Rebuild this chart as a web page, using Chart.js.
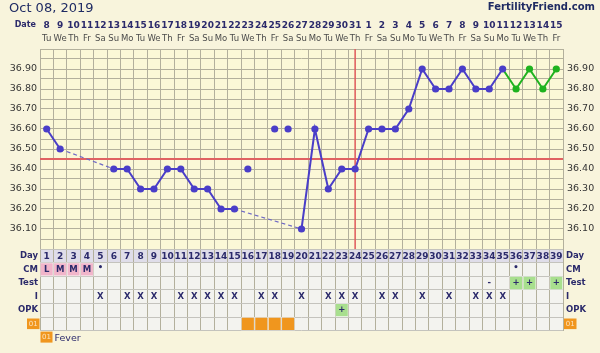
<!DOCTYPE html>
<html>
<head>
<meta charset="utf-8">
<script src="https://cdn.jsdelivr.net/npm/chart.js@4.4.1/dist/chart.umd.min.js"></script>
<style>
html,body{margin:0;padding:0;background:#f8f4dc;overflow:hidden}
#wrap{width:600px;height:353px;position:relative}
canvas{display:block}
</style>
</head>
<body>
<div id="wrap"><canvas id="chart" width="600" height="353"></canvas></div>
<script>
// ---------------- data ----------------
const chartDate = 'Oct 08, 2019';
const siteName = 'FertilityFriend.com';
const cycleDays = [1,2,3,4,5,6,7,8,9,10,11,12,13,14,15,16,17,18,19,20,21,22,23,24,25,26,27,28,29,30,31,32,33,34,35,36,37,38,39];
const dateLabels = ['8','9','10','11','12','13','14','15','16','17','18','19','20','21','22','23','24','25','26','27','28','29','30','31','1','2','3','4','5','6','7','8','9','10','11','12','13','14','15'];
const weekdayLabels = ['Tu','We','Th','Fr','Sa','Su','Mo','Tu','We','Th','Fr','Sa','Su','Mo','Tu','We','Th','Fr','Sa','Su','Mo','Tu','We','Th','Fr','Sa','Su','Mo','Tu','We','Th','Fr','Sa','Su','Mo','Tu','We','Th','Fr'];
const temperatures = [36.60,36.50,null,null,null,36.40,36.40,36.30,36.30,36.40,36.40,36.30,36.30,36.20,36.20,null,null,null,null,36.10,36.60,36.30,36.40,36.40,36.60,36.60,36.60,36.70,36.90,36.80,36.80,36.90,36.80,36.80,36.90,36.80,36.90,36.80,36.90];
const discardedDays = [16,18,19];
const discardedTemps = [36.40,36.60,36.60];
const greenFromDay = 35;
const coverlineTemp = 36.45;
const ovulationDay = 24;
const tempTickLabels = ['36.10','36.20','36.30','36.40','36.50','36.60','36.70','36.80','36.90'];
const rowLabels = ['Day','CM','Test','I','OPK','01'];
const cmDays = [1,2,3,4,5,36];
const cmValues = ['L','M','M','M','•','•'];
const cmHighlightDays = [1,2,3,4];
const testDays = [34,36,37,39];
const testValues = ['-','+','+','+'];
const testPositiveDays = [36,37,39];
const intercourseDays = [5,7,8,9,11,12,13,14,15,17,18,20,22,23,24,26,27,29,31,33,34,35];
const opkDays = [23];
const opkValues = ['+'];
const opkPositiveDays = [23];
const feverDays = [16,17,18,19];
const feverLegend = 'Fever';

// ---------------- styles ----------------
const FONT = '"DejaVu Sans", Verdana, sans-serif';
const NAVY = '#2b2a6b';
const BLUE = '#4a3ec8';
const GREEN = '#1fb31f';
const RED = '#e06262';
const GRID = '#b3b09c';
const TGRID = '#c4c3bd';
const PINK = '#f1b5ca';
const LGREEN = '#a8df8e';
const ORANGE = '#f0961e';

const X_MIN = cycleDays[0] - 0.5;
const X_MAX = cycleDays[cycleDays.length - 1] + 0.5;
const colBounds = cycleDays.map(d => d - 0.5).concat([X_MAX]);
const yGrid = Array.from({length: 21}, (_, i) => Math.round((36 + i * 0.05) * 100) / 100);

const tempPoints = cycleDays.map((d, i) => ({x: d, y: temperatures[i]})).filter(p => p.y !== null);
const discardedPoints = discardedDays.map((d, i) => ({x: d, y: discardedTemps[i]}));
const isGap = c => tempPoints[c.p1DataIndex].x - tempPoints[c.p0DataIndex].x > 1;

function cellBars(days, row, color) {
  return {
    type: 'bar', indexAxis: 'y', xAxisID: 'x', yAxisID: 'yt',
    data: days.map(d => ({x: [d - 0.5, d + 0.5], y: row})),
    backgroundColor: color, borderColor: 'rgba(255,255,255,0.45)', borderWidth: 1,
    borderSkipped: false, grouped: false, barPercentage: 1, categoryPercentage: 1, order: 4
  };
}

const decor = {
  id: 'decor',
  beforeDraw(chart) {
    const {ctx, chartArea: a, scales: {y, yt}} = chart;
    ctx.save();
    ctx.fillStyle = '#f8f4dc';
    ctx.fillRect(0, 0, chart.width, chart.height);
    ctx.fillStyle = '#fbf8d7';
    ctx.fillRect(a.left, y.top, a.right - a.left, y.bottom - y.top);
    ctx.fillStyle = '#f3f3ef';
    ctx.fillRect(a.left, yt.top, a.right - a.left, yt.bottom - yt.top);
    const band = (yt.bottom - yt.top) / rowLabels.length;
    ctx.fillStyle = '#dfdde9';
    ctx.fillRect(a.left, yt.getPixelForValue(0) - band / 2, a.right - a.left, band);
    ctx.restore();
  },
  afterDatasetsDraw(chart) {
    const {ctx, scales: {x, yt}} = chart;
    const rowY = name => yt.getPixelForValue(rowLabels.indexOf(name));
    ctx.save();
    ctx.textAlign = 'center';
    ctx.textBaseline = 'middle';
    ctx.fillStyle = NAVY;
    ctx.font = 'bold 9px ' + FONT;
    cycleDays.forEach(d => ctx.fillText(String(d), x.getPixelForValue(d), rowY('Day') + 0.5));
    ctx.font = 'bold 8.5px ' + FONT;
    cmDays.forEach((d, i) => {
      const dot = cmValues[i] === '•';
      ctx.fillText(cmValues[i], x.getPixelForValue(d), rowY('CM') + (dot ? -2 : 0.5));
    });
    testDays.forEach((d, i) => ctx.fillText(testValues[i], x.getPixelForValue(d), rowY('Test')));
    intercourseDays.forEach(d => ctx.fillText('X', x.getPixelForValue(d), rowY('I') + 0.5));
    opkDays.forEach((d, i) => ctx.fillText(opkValues[i], x.getPixelForValue(d), rowY('OPK')));
    ctx.restore();
  },
  afterDraw(chart) {
    const {ctx, chartArea: a, scales: {x, yt}} = chart;
    ctx.save();
    // title + site
    ctx.textBaseline = 'alphabetic';
    ctx.textAlign = 'left';
    ctx.fillStyle = '#1f2b63';
    ctx.font = '13px ' + FONT;
    ctx.fillText(chartDate, 9, 12);
    ctx.textAlign = 'right';
    ctx.font = 'bold 10px ' + FONT;
    ctx.fillText(siteName, 595, 10);
    // date row
    ctx.fillStyle = NAVY;
    ctx.font = 'bold 8px ' + FONT;
    ctx.fillText('Date', 36, a.top - 22);
    ctx.textAlign = 'center';
    ctx.font = 'bold 9px ' + FONT;
    dateLabels.forEach((t, i) => ctx.fillText(t, x.getPixelForValue(cycleDays[i]), a.top - 21.5));
    ctx.fillStyle = '#4a4a4a';
    ctx.font = '8.5px ' + FONT;
    weekdayLabels.forEach((t, i) => ctx.fillText(t, x.getPixelForValue(cycleDays[i]), a.top - 8.5));
    // 01 boxes
    const band = (yt.bottom - yt.top) / rowLabels.length;
    const cy = yt.getPixelForValue(rowLabels.indexOf('01'));
    const box = (bx, by, w, h) => {
      ctx.fillStyle = ORANGE;
      ctx.fillRect(bx, by, w, h);
      ctx.fillStyle = '#fde3bf';
      ctx.font = '7px ' + FONT;
      ctx.textAlign = 'center';
      ctx.textBaseline = 'middle';
      ctx.fillText('01', bx + w / 2, by + h / 2 + 0.5);
    };
    box(a.left - 13, cy - band / 2 + 1.5, 12.5, band - 3);
    box(a.right + 1, cy - band / 2 + 1.5, 12.5, band - 3);
    // legend
    box(a.left + 0.5, yt.bottom + 1, 12, 11);
    ctx.fillStyle = NAVY;
    ctx.font = '9.5px ' + FONT;
    ctx.textAlign = 'left';
    ctx.textBaseline = 'alphabetic';
    ctx.fillText(feverLegend, a.left + 14.5, yt.bottom + 10);
    ctx.restore();
  }
};

const tempTickCb = v => {
  const s = Number(v).toFixed(2);
  return tempTickLabels.includes(s) ? s : '';
};

new Chart(document.getElementById('chart'), {
  type: 'line',
  data: {
    datasets: [
      {
        label: 'temp', xAxisID: 'x', yAxisID: 'y', data: tempPoints, order: 0,
        borderColor: BLUE, borderWidth: 2, tension: 0,
        pointRadius: 3.6, pointHoverRadius: 3.6, pointBorderWidth: 0,
        pointBackgroundColor: tempPoints.map(p => p.x > greenFromDay ? GREEN : BLUE),
        segment: {
          borderDash: c => isGap(c) ? [4, 3] : undefined,
          borderWidth: c => isGap(c) ? 1.2 : undefined,
          borderColor: c => isGap(c) ? '#6e68c4' : (tempPoints[c.p0DataIndex].x >= greenFromDay ? GREEN : BLUE)
        }
      },
      {
        label: 'discarded', xAxisID: 'x', yAxisID: 'y', data: discardedPoints, order: 1,
        showLine: false, pointRadius: 3.6, pointBorderWidth: 0, pointBackgroundColor: BLUE, borderColor: BLUE
      },
      {
        label: 'coverline', xAxisID: 'x', yAxisID: 'y', order: 6,
        data: [{x: X_MIN, y: coverlineTemp}, {x: X_MAX, y: coverlineTemp}],
        borderColor: RED, borderWidth: 2, pointRadius: 0
      },
      {
        label: 'ovulation', xAxisID: 'x', yAxisID: 'y', order: 5,
        data: [{x: ovulationDay, y: 36}, {x: ovulationDay, y: 37}],
        borderColor: RED, borderWidth: 1.6, pointRadius: 0
      },
      cellBars(cmHighlightDays, 'CM', PINK),
      cellBars(testPositiveDays, 'Test', LGREEN),
      cellBars(opkPositiveDays, 'OPK', LGREEN),
      cellBars(feverDays, '01', ORANGE)
    ]
  },
  options: {
    responsive: false,
    animation: false,
    events: [],
    layout: {padding: {top: 49, bottom: 22.4, left: 0, right: 0}},
    plugins: {legend: {display: false}, tooltip: {enabled: false}, title: {display: false}},
    scales: {
      x: {
        type: 'linear', position: 'bottom', min: X_MIN, max: X_MAX,
        afterBuildTicks: s => { s.ticks = colBounds.map(v => ({value: v})); },
        afterFit: s => { s.height = 0; },
        ticks: {display: false},
        grid: {color: GRID, drawTicks: false, lineWidth: 1},
        border: {display: false}
      },
      y: {
        type: 'linear', position: 'left', stack: 'left', stackWeight: 200, weight: 1,
        min: 36, max: 37,
        afterBuildTicks: s => { s.ticks = yGrid.map(v => ({value: v})); },
        afterFit: s => { s.width = 40; },
        ticks: {callback: tempTickCb, color: '#333', font: {family: FONT, size: 9.5}, padding: 3, autoSkip: false},
        grid: {color: GRID, drawTicks: false},
        border: {display: false}
      },
      yt: {
        type: 'category', labels: rowLabels, position: 'left', stack: 'left', stackWeight: 81.6, weight: 0,
        offset: true,
        afterFit: s => { s.width = 40; },
        ticks: {
          callback: (v, i) => rowLabels[i] === '01' ? '' : rowLabels[i],
          color: NAVY, font: {family: FONT, size: 8.5, weight: 'bold'}, padding: 2, autoSkip: false
        },
        grid: {offset: true, color: TGRID, drawTicks: false},
        border: {display: false}
      },
      y2: {
        type: 'linear', position: 'right', stack: 'right', stackWeight: 200, weight: 0,
        min: 36, max: 37,
        afterBuildTicks: s => { s.ticks = yGrid.map(v => ({value: v})); },
        afterFit: s => { s.width = 37; },
        ticks: {callback: tempTickCb, color: '#333', font: {family: FONT, size: 9.5}, padding: 4, autoSkip: false},
        grid: {display: false, drawTicks: false},
        border: {display: false}
      },
      yt2: {
        type: 'category', labels: rowLabels, position: 'right', stack: 'right', stackWeight: 81.6, weight: 1,
        offset: true,
        afterFit: s => { s.width = 37; },
        ticks: {
          callback: (v, i) => rowLabels[i] === '01' ? '' : rowLabels[i],
          color: NAVY, font: {family: FONT, size: 8.5, weight: 'bold'}, padding: 3, autoSkip: false
        },
        grid: {display: false, drawTicks: false},
        border: {display: false}
      }
    }
  },
  plugins: [decor]
});
</script>
</body>
</html>
